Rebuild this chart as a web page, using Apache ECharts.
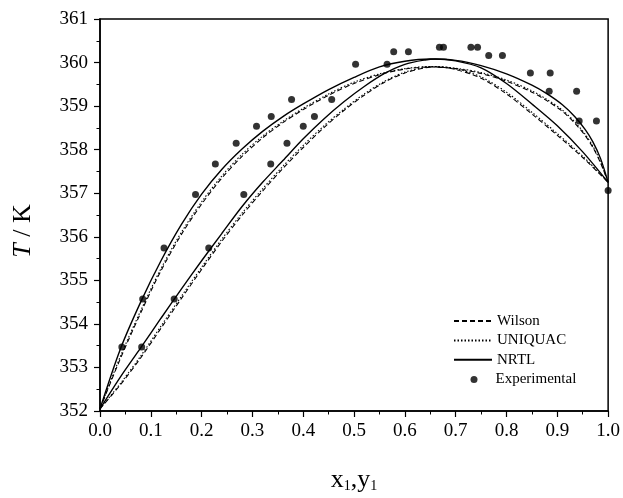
<!DOCTYPE html>
<html>
<head>
<meta charset="utf-8">
<script src="https://cdn.jsdelivr.net/npm/echarts@6/dist/echarts.min.js"></script>
<style>html,body{margin:0;padding:0;background:#fff;}#c{width:623px;height:498px;}</style>
</head>
<body>
<div id="c"></div>
<script>
// ---- data ----
const xTicks = [0.0, 0.1, 0.2, 0.3, 0.4, 0.5, 0.6, 0.7, 0.8, 0.9, 1.0];
const yTicks = [352, 353, 354, 355, 356, 357, 358, 359, 360, 361];

// NRTL (solid)
const nrtlDewX = [0, 0.04, 0.08, 0.12, 0.16, 0.20, 0.24, 0.28, 0.32, 0.36, 0.40, 0.45, 0.50, 0.55, 0.60, 0.65, 0.70, 0.75, 0.80, 0.85, 0.88, 0.91, 0.935, 0.955, 0.97, 0.985, 1.0];
const nrtlDewT = [352.05, 353.42, 354.5, 355.45, 356.28, 356.98, 357.55, 358.02, 358.42, 358.76, 359.05, 359.38, 359.66, 359.9, 360.03, 360.08, 360.05, 359.93, 359.74, 359.48, 359.28, 359.03, 358.75, 358.46, 358.18, 357.8, 357.25];
const nrtlBubX = [0, 0.04, 0.08, 0.12, 0.16, 0.20, 0.24, 0.28, 0.32, 0.36, 0.40, 0.44, 0.48, 0.52, 0.56, 0.60, 0.64, 0.66, 0.70, 0.75, 0.80, 0.85, 0.90, 0.95, 1.0];
const nrtlBubT = [352.05, 352.78, 353.45, 354.13, 354.8, 355.45, 356.08, 356.7, 357.25, 357.75, 358.25, 358.7, 359.1, 359.45, 359.75, 359.96, 360.06, 360.08, 360.04, 359.88, 359.52, 359.05, 358.55, 357.95, 357.25];

// Wilson (dashed)
const wilsonDewX = [0, 0.04, 0.08, 0.12, 0.16, 0.20, 0.24, 0.28, 0.32, 0.36, 0.40, 0.45, 0.50, 0.55, 0.60, 0.65, 0.70, 0.75, 0.80, 0.85, 0.88, 0.91, 0.935, 0.955, 0.97, 0.985, 1.0];
const wilsonDewT = [352.05, 353.2, 354.25, 355.22, 356.05, 356.75, 357.35, 357.85, 358.27, 358.62, 358.92, 359.25, 359.52, 359.72, 359.85, 359.9, 359.86, 359.75, 359.57, 359.32, 359.12, 358.88, 358.6, 358.32, 358.05, 357.7, 357.25];
const wilsonBubX = [0, 0.04, 0.08, 0.12, 0.16, 0.20, 0.24, 0.28, 0.32, 0.36, 0.40, 0.44, 0.48, 0.52, 0.56, 0.60, 0.64, 0.66, 0.70, 0.75, 0.80, 0.85, 0.90, 0.95, 1.0];
const wilsonBubT = [352.05, 352.6, 353.22, 353.9, 354.58, 355.25, 355.9, 356.5, 357.05, 357.57, 358.05, 358.5, 358.9, 359.25, 359.55, 359.76, 359.88, 359.9, 359.84, 359.64, 359.28, 358.82, 358.33, 357.82, 357.25];

// UNIQUAC (dotted)
const uniquacDewX = [0, 0.04, 0.08, 0.12, 0.16, 0.20, 0.24, 0.28, 0.32, 0.36, 0.40, 0.45, 0.50, 0.55, 0.60, 0.65, 0.70, 0.75, 0.80, 0.85, 0.88, 0.91, 0.935, 0.955, 0.97, 0.985, 1.0];
const uniquacDewT = [352.05, 353.25, 354.3, 355.27, 356.1, 356.8, 357.4, 357.9, 358.31, 358.65, 358.95, 359.28, 359.55, 359.74, 359.86, 359.91, 359.87, 359.77, 359.6, 359.35, 359.15, 358.91, 358.63, 358.35, 358.08, 357.72, 357.25];
const uniquacBubX = [0, 0.04, 0.08, 0.12, 0.16, 0.20, 0.24, 0.28, 0.32, 0.36, 0.40, 0.44, 0.48, 0.52, 0.56, 0.60, 0.64, 0.66, 0.70, 0.75, 0.80, 0.85, 0.90, 0.95, 1.0];
const uniquacBubT = [352.05, 352.63, 353.26, 353.95, 354.63, 355.3, 355.95, 356.55, 357.1, 357.62, 358.1, 358.54, 358.93, 359.28, 359.57, 359.78, 359.89, 359.91, 359.86, 359.67, 359.32, 358.86, 358.37, 357.85, 357.25];

// Experimental
const expX = [0.043, 0.082, 0.084, 0.146, 0.126, 0.214, 0.188, 0.283, 0.227, 0.336, 0.268, 0.368, 0.308, 0.400, 0.337, 0.422, 0.377, 0.456, 0.503, 0.565, 0.578, 0.607, 0.668, 0.676, 0.730, 0.743, 0.765, 0.792, 0.847, 0.886, 0.884, 0.938, 0.943, 0.977, 1.0];
const expT = [353.47, 353.47, 354.57, 354.57, 355.74, 355.74, 356.97, 356.97, 357.67, 357.67, 358.15, 358.15, 358.54, 358.54, 358.76, 358.76, 359.15, 359.15, 359.96, 359.96, 360.25, 360.25, 360.35, 360.35, 360.35, 360.35, 360.16, 360.16, 359.76, 359.76, 359.34, 359.34, 358.66, 358.66, 357.06];

const zip = (xs, ys) => xs.map((x, i) => [x, ys[i]]);
const FONT = 'Liberation Serif';

function lineSeries(name, xs, ys, type, width) {
  return {
    name: name, type: 'line', data: zip(xs, ys), symbol: 'none', showSymbol: false, smooth: 0.3,
    lineStyle: { color: '#000', width: width, type: type },
    itemStyle: { color: 'rgba(0,0,0,0)', borderWidth: 0 }, z: 2, silent: true
  };
}

const chart = echarts.init(document.getElementById('c'), null, { renderer: 'canvas' });
chart.setOption({
  animation: false,
  backgroundColor: '#fff',
  grid: { left: 100, right: 14, top: 19, bottom: 84, show: true, borderColor: '#000', borderWidth: 1.5, backgroundColor: 'transparent' },
  xAxis: {
    type: 'value', min: 0, max: 1, interval: 0.1,
    name: 'x{s|1},y{s|1}', nameLocation: 'middle', nameGap: 56,
    nameTextStyle: { fontFamily: FONT, fontSize: 26, color: '#000',
      rich: { s: { fontFamily: FONT, fontSize: 14, color: '#000', verticalAlign: 'bottom', padding: [12, 0, 0, 0] } } },
    axisLine: { lineStyle: { color: '#000', width: 1.5 } },
    axisTick: { inside: false, length: 6, lineStyle: { color: '#000', width: 1.2 } },
    minorTick: { show: true, splitNumber: 2, length: 3.5, lineStyle: { color: '#000', width: 1 } },
    splitLine: { show: false },
    axisLabel: { margin: 11, fontFamily: FONT, fontSize: 19, color: '#000', formatter: v => xTicks.includes(Math.round(v * 10) / 10) ? v.toFixed(1) : '' }
  },
  yAxis: {
    type: 'value', min: 352, max: 361, interval: 1,
    name: '{i|T} / K', nameLocation: 'middle', nameGap: 64, nameRotate: 90,
    nameTextStyle: { fontFamily: FONT, fontSize: 26, color: '#000', padding: [0, 32, 0, 0],
      rich: { i: { fontFamily: FONT, fontSize: 26, fontStyle: 'italic', color: '#000' } } },
    axisLine: { lineStyle: { color: '#000', width: 1.5 } },
    axisTick: { inside: false, length: 6, lineStyle: { color: '#000', width: 1.2 } },
    minorTick: { show: true, splitNumber: 2, length: 3.5, lineStyle: { color: '#000', width: 1 } },
    splitLine: { show: false },
    axisLabel: { margin: 12, fontFamily: FONT, fontSize: 19, color: '#000', formatter: v => yTicks.includes(v) ? String(v) : '' }
  },
  legend: [
    {
      orient: 'vertical', left: 453, top: 313.5, padding: 0, itemWidth: 38, itemHeight: 14, itemGap: 4.4,
      textStyle: { fontFamily: FONT, fontSize: 15, color: '#000' },
      data: ['Wilson', 'UNIQUAC', 'NRTL'],
      selectedMode: false
    },
    {
      orient: 'vertical', left: 470.5, top: 372, padding: 0, itemWidth: 7, itemHeight: 7,
      textStyle: { fontFamily: FONT, fontSize: 15, color: '#000', padding: [0, 0, 0, 13] },
      data: ['Experimental'],
      selectedMode: false
    }
  ],
  series: [
    lineSeries('Wilson', wilsonDewX, wilsonDewT, [5, 3], 1.1),
    lineSeries('Wilson', wilsonBubX, wilsonBubT, [5, 3], 1.1),
    lineSeries('UNIQUAC', uniquacDewX, uniquacDewT, [1.5, 2], 1.1),
    lineSeries('UNIQUAC', uniquacBubX, uniquacBubT, [1.5, 2], 1.1),
    lineSeries('NRTL', nrtlDewX, nrtlDewT, 'solid', 1.4),
    lineSeries('NRTL', nrtlBubX, nrtlBubT, 'solid', 1.4),
    {
      name: 'Experimental', type: 'scatter', data: zip(expX, expT), symbol: 'circle', symbolSize: 7,
      itemStyle: { color: '#000' }, z: 3, clip: false, silent: true
    }
  ]
});
</script>
</body>
</html>
